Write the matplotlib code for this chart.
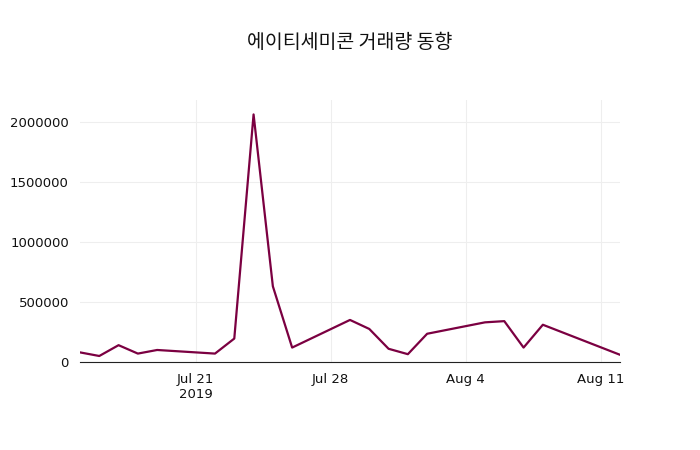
import matplotlib
matplotlib.use("Agg")
import matplotlib.pyplot as plt
from matplotlib import font_manager
import pandas as pd

dates = ["2019-07-15","2019-07-16","2019-07-17","2019-07-18","2019-07-19",
         "2019-07-22","2019-07-23","2019-07-24","2019-07-25","2019-07-26",
         "2019-07-29","2019-07-30","2019-07-31","2019-08-01","2019-08-02",
         "2019-08-05","2019-08-06","2019-08-07","2019-08-08","2019-08-12"]
volume = [80000, 50000, 140000, 70000, 100000,
          70000, 195000, 2060000, 630000, 120000,
          350000, 275000, 110000, 65000, 235000,
          330000, 340000, 120000, 310000, 60000]
title = "에이티세미콘 거래량 동향"

names = {f.name for f in font_manager.fontManager.ttflist}
cjk = [n for n in ["Noto Sans CJK KR", "Noto Sans CJK JP", "Noto Sans CJK SC",
                   "Noto Sans CJK TC"] if n in names]
plt.rcParams["font.family"] = ["DejaVu Sans"] + cjk

x = pd.to_datetime(dates)
fig = plt.figure(figsize=(7, 4.5), dpi=100)
ax = fig.add_axes([80/700, 1-362/450, 540/700, 262/450])
ax.plot(x, volume, color="#7b0041", lw=1.6)
ax.set_xlim(x[0], x[-1])
ax.set_ylim(0, 2180000)
ax.set_yticks([0, 500000, 1000000, 1500000, 2000000])
ax.set_yticklabels(["0","500000","1000000","1500000","2000000"])
ticks = pd.to_datetime(["2019-07-21","2019-07-28","2019-08-04","2019-08-11"])
ax.set_xticks(ticks)
ax.set_xticklabels(["Jul 21\n2019","Jul 28","Aug 4","Aug 11"])
ax.grid(True, color="#eeeeee", lw=0.8)
for s in ["top","right","left"]:
    ax.spines[s].set_visible(False)
ax.spines["bottom"].set_color("#222222")
ax.tick_params(length=0, labelsize=9.5, colors="#111111", pad=8)
fig.text(350/700, 1-42/450, title, ha="center", va="center", fontsize=14,
         fontfamily=cjk if cjk else None, color="#111111")
fig.savefig("out.png", dpi=100)
